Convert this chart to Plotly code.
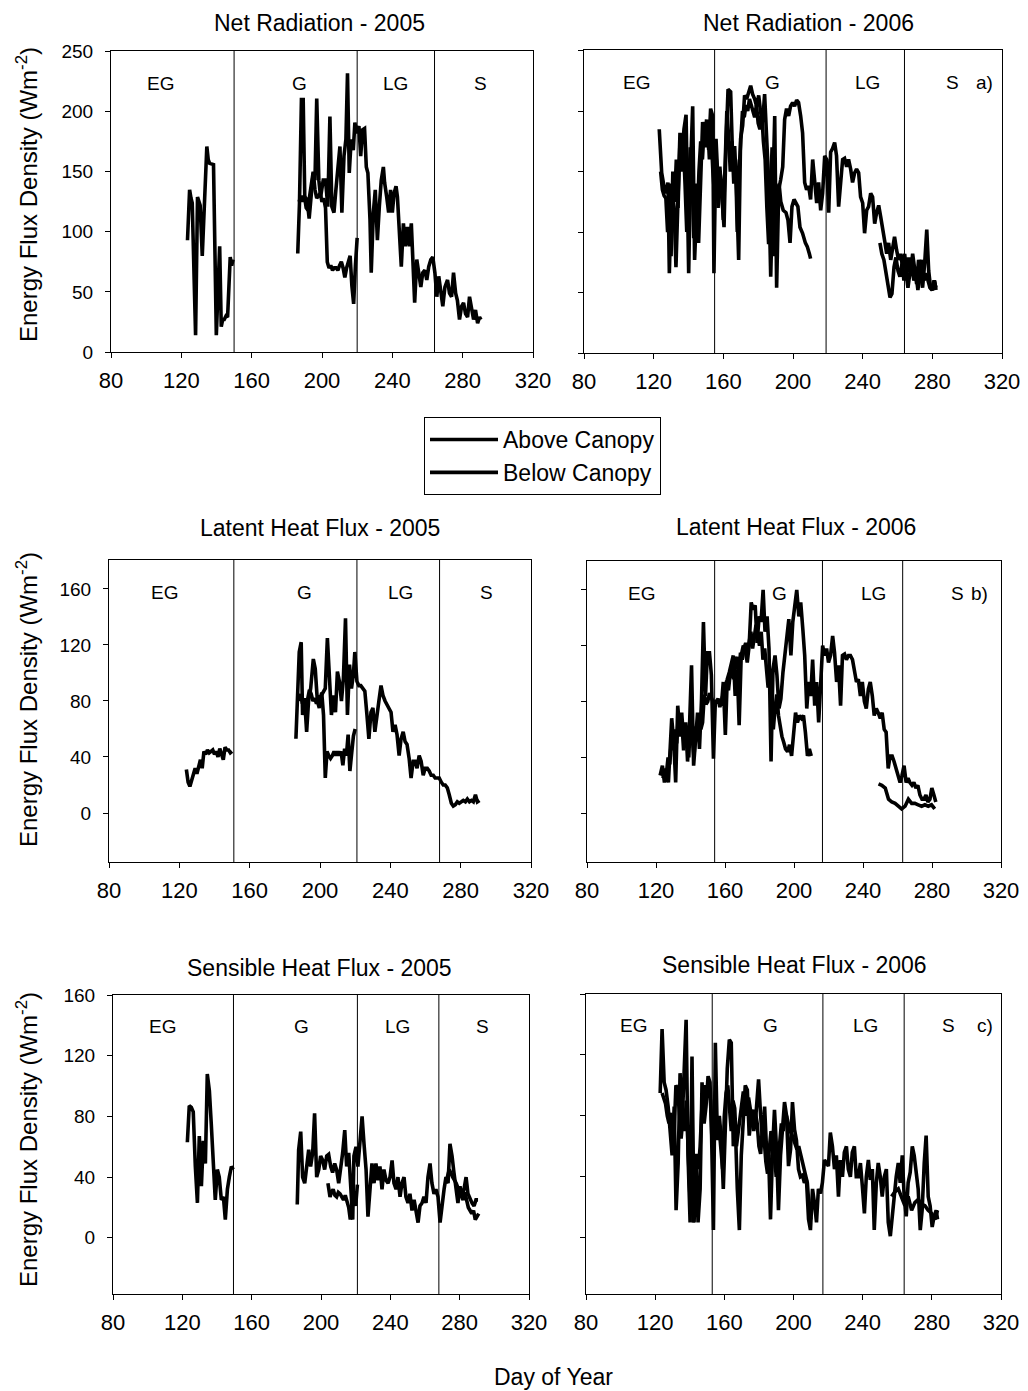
import plotly.graph_objects as go

# ---------------- DATA ----------------
# Net Radiation 2005
rn05_above_day = [123.5,124.7,125.5,126.2,127.3,128.1,129.2,130.7,131.9,132.6,133.2,134.5,135.3,136.1,138.3,139.9,141.8,142.7,143.5,144.4,145.4,146.3,147.8,148.6,149.4,None,
                  186.2,187.2,188.3,189.3,190.2,191.5,192.7,193.8,195.0,196.0,197.0,198.2,199.2,200.7,202.0,203.3,204.5,205.6,206.8,207.9,
                  209.0,210.2,211.3,212.5,213.6,214.5,215.5,216.6,217.8,218.7,219.7,221.0,222.0,223.1,224.2,225.2,226.1,227.3,228.0,229.2,
                  230.3,231.5,232.6,233.7,234.9,235.6,236.8,237.9,239.0,240.0,241.0,242.1,242.9,244.0,245.1,246.3,247.4,248.6,249.7,250.8,
                  252.0,252.7,253.9,255.0,256.2,257.3,258.5,259.6,260.7,261.9,263.0,264.2,265.3,266.4,267.6,268.7,269.9,271.4,272.5,273.7,
                  274.8,276.0,277.0,278.2,279.4,280.5,281.6,282.8,283.9,285.0,286.2,287.3,288.5,289.6,290.4]
rn05_above = [93,135,128,124,60,14,129,122,80,105,135,171,160,157,156,14,88,21,27,27,30,29,79,72,77,None,
              82,124,210,210,129,127,111,127,149,143,211,143,129,143,143,121,196,121,116,135,
              154,171,116,163,177,232,149,177,168,191,182,188,163,185,186,154,149,110,66,116,
              135,93,121,143,154,141,129,116,135,116,132,138,129,104,71,107,88,104,88,107,
              60,41,77,66,54,66,68,60,71,77,79,66,46,63,49,38,54,60,49,46,
              66,49,43,27,38,41,32,29,46,35,27,35,24,29,27]
rn05_below_day = list(range(187, 221))
rn05_below = [125,130,125,130,120,118,130,140,150,135,128,130,132,125,128,120,75,70,72,68,
              70,70,68,72,75,70,62,70,75,80,55,40,72,95]

# Net Radiation 2006
rn06_above_day = [123.2,124.6,125.9,127.1,128.2,129.0,130.3,131.7,132.8,134.0,135.1,136.3,137.4,138.6,139.3,140.1,141.2,142.4,143.5,144.7,
                  145.8,147.0,148.1,149.3,150.4,151.6,152.7,153.9,154.6,155.8,156.9,158.0,159.2,160.4,161.5,162.7,164.2,165.3,166.5,167.6,
                  168.8,169.9,171.1,172.2,173.4,174.5,175.7,176.8,178.0,179.1,180.3,181.4,182.6,183.7,184.9,186.0,187.2,188.3,189.5,190.6,
                  191.8,192.9,194.1,195.2,196.3,197.5,198.6,199.8,200.9,202.1,203.2,204.4,205.5,206.7,207.8,209.0,210.1,211.3,212.4,213.6,
                  214.7,215.9,217.0,218.2,219.3,220.5,221.6,222.7,223.9,225.0,226.2,227.3,228.5,229.6,230.8,231.9,233.1,234.2,235.4,236.5,
                  237.7,238.8,240.0,241.1,242.3,243.4,244.6,245.7,246.9,248.0,249.2,250.3,251.5,252.6,253.8,254.9,256.1,257.2,258.3,259.5,
                  260.6,261.8,262.9,264.1,265.2,266.4,267.5,268.7,269.8,271.0,272.1,273.3,274.4,275.6,276.8,277.9,279.0,280.2,281.3,282.1]
rn06_above = [185,149,138,132,141,66,138,121,71,135,182,163,185,197,121,66,154,204,77,121,
              91,141,191,177,193,168,202,196,66,177,143,154,127,104,171,218,216,163,171,135,
              77,177,188,213,210,216,221,214,210,204,213,199,191,214,182,143,63,143,196,54,
              135,143,154,193,202,196,204,207,204,209,207,196,182,141,135,138,127,160,143,124,
              141,118,132,163,160,116,166,169,174,163,121,143,160,161,154,160,152,141,149,152,
              149,129,124,99,118,121,132,129,107,116,122,113,104,93,82,91,77,88,96,85,
              77,82,71,82,66,79,66,82,71,57,77,66,54,74,102,68,54,52,60,52]
rn06_below_day = list(range(124, 194)) + [
                  194.4,196.0,197.1,198.3,199.4,200.6,201.7,202.8,204.0,205.5,207.1,208.2,209.4,210.1,None,
                  249.9,251.0,252.2,253.4,254.5,255.7,256.8,258.0,259.1,260.3,261.4,262.6,263.7,264.8,266.0,
                  267.1,268.3,269.4,270.6,271.7,272.9,274.0,275.2,276.3,277.5,278.6,279.8,281.0,282.1]
rn06_below = [150,135,130,128,100,140,80,150,125,160,120,170,150,175,140,100,130,170,150,95,
              140,110,150,175,160,185,170,190,160,180,150,130,160,120,150,140,110,150,200,180,
              150,175,140,160,100,150,175,200,195,205,200,210,205,200,195,205,190,185,200,175,
              160,120,90,130,170,80,120,130,140,125,
              118,116,110,91,121,127,124,121,104,99,91,88,82,78,None,
              91,82,77,66,54,46,49,71,79,68,63,74,60,68,54,
              66,71,60,66,52,66,77,60,66,60,54,52,60,54]

# Latent Heat Flux 2005
le05_above_day = list(range(124, 151)) + [None] + [
                  186.3,187.4,188.2,189.3,190.1,191.2,192.4,193.5,194.7,196.2,197.3,198.5,199.6,200.8,201.9,203.0,204.2,205.3,206.5,207.6,
                  208.8,209.9,211.0,212.2,213.3,214.5,215.6,216.8,217.9,219.0,219.8,221.0,222.1,223.2,224.4,225.5,226.7,227.8,229.0,230.1,
                  231.2,232.4,233.5,234.7,235.8,237.0,238.1,239.2,240.4,241.5,242.7,243.8,245.0,246.1,247.3,248.4,249.5,250.7,251.8,253.0,
                  254.1,255.2,256.4,257.5,258.7,259.8,261.0,262.1,263.2,264.4,265.5,266.7,267.8,269.0,270.1,271.2,272.4,273.5,274.7,275.8,
                  277.0,278.1,279.2,280.4,281.5,282.7,283.8,285.0,286.1,287.2,288.4,289.5,290.7]
le05_above = [31,22,19,24,27,32,28,33,38,32,44,42,45,43,44,45,42,44,40,46,42,38,47,45,45,43,44, None,
              53,84,115,122,70,82,58,80,89,110,103,80,75,84,87,89,125,101,70,84,
              72,101,94,80,96,139,70,106,89,99,115,94,91,91,89,87,70,53,72,75,
              58,72,80,91,84,80,77,75,72,58,63,56,41,53,58,51,49,39,25,37,
              37,32,41,37,27,32,32,30,27,27,25,25,25,22,20,20,18,13,7,5,
              6,8,7,8,9,8,10,8,9,8,13,8,9]
le05_below_day = list(range(188, 221))
le05_below = [80,85,78,80,75,82,88,85,80,82,78,84,80,86,70,25,44,41,39,41,
              44,41,44,41,44,34,46,41,56,30,41,55,60]

# Latent Heat Flux 2006
le06_above_day = [122.4,123.7,124.9,126.0,127.2,128.3,129.1,130.3,131.4,132.6,133.7,134.9,136.0,137.2,138.3,139.5,140.6,141.8,142.9,144.1,
                  145.2,146.4,147.5,148.7,149.8,151.0,152.1,153.3,154.4,155.6,156.7,157.9,159.0,160.2,161.3,162.5,163.6,164.8,165.9,167.1,
                  168.2,169.4,170.6,171.7,172.9,174.0,175.2,176.3,177.5,178.6,179.8,180.9,182.1,183.2,184.4,185.5,186.7,187.8,189.0,190.1,
                  191.3,192.4,193.6,194.7,195.9,197.0,198.2,199.3,200.5,201.6,202.8,203.9,205.1,206.2,207.4,208.5,209.7,210.8,212.0,213.1,
                  214.3,215.4,216.6,217.7,218.9,220.0,221.2,222.4,223.5,224.7,225.8,227.0,228.1,229.3,230.4,231.6,232.7,233.9,235.0,236.2,
                  237.3,238.5,239.6,240.8,241.9,243.1,244.2,245.4,246.5,247.7,248.8,250.0,251.1,252.3,253.4,254.6,255.7,256.9,258.0,259.2,
                  260.3,261.5,262.6,263.8,265.0,266.1,267.2,268.4,269.5,270.7,271.8,273.0,274.2,275.3,276.5,277.6,278.8,279.9,281.1,282.2]
le06_above = [27,34,22,32,22,46,68,51,22,77,60,72,53,65,37,65,106,34,51,72,
              46,82,137,84,115,115,99,39,80,80,80,77,94,56,96,101,106,113,84,103,
              63,113,120,118,108,120,151,146,149,122,141,137,160,130,141,118,37,103,113,99,
              75,82,101,113,122,139,113,137,149,160,141,151,132,113,75,94,84,110,77,94,
              65,89,120,113,118,108,113,127,115,94,106,77,113,114,110,113,113,110,103,94,
              96,84,94,80,75,89,94,84,70,75,72,68,72,60,58,32,41,41,37,32,
              27,22,27,34,22,25,22,20,22,18,20,13,10,10,13,8,10,18,13,8]
le06_below_day = list(range(124, 194)) + [
                  194.0,195.1,196.3,197.4,198.6,199.7,200.9,202.0,203.2,204.3,205.5,206.6,207.8,208.9,210.0, None,
                  249.0,250.9,252.9,254.8,256.7,258.6,260.5,262.4,264.4,266.3,268.2,270.1,272.0,274.0,275.9,277.8,279.7,281.6]
le06_below = [25,30,28,40,35,55,45,60,50,70,55,65,45,60,50,40,70,55,40,62,
              58,68,60,65,85,78,80,86,82,80,78,80,82,76,80,85,90,95,88,100,
              105,96,108,112,100,115,110,118,122,115,125,130,118,125,135,128,120,130,110,118,
              100,90,95,80,60,75,85,70,62,55,
              51,46,44,49,41,56,72,65,70,68,70,58,41,46,41, None,
              21,20,18,10,8,7,5,3,5,10,7,7,6,5,6,5,6,3]

# Sensible Heat Flux 2005
h05_above_day = [122.9,124.0,125.2,126.3,127.5,128.7,129.8,131.0,132.1,133.3,134.4,135.6,136.7,137.9,139.0,140.2,141.3,142.5,143.7,144.8,
                 146.0,147.1,148.3,149.4, None,
                 186.3,187.1,188.3,189.4,190.6,191.7,192.9,194.0,195.2,196.3,197.5,198.7,199.8,201.0,202.1,203.3,204.4,205.6,206.7,207.9,
                 209.0,210.2,211.3,212.5,213.7,214.8,216.0,217.1,218.3,219.0,220.2,221.3,222.5,223.7,224.8,226.0,227.1,228.3,229.4,230.6,
                 231.7,232.9,234.0,235.2,236.3,237.5,238.7,239.8,241.0,242.1,243.3,244.4,245.6,246.7,247.9,249.0,250.2,251.3,252.5,253.7,
                 254.8,256.0,257.1,258.3,259.4,260.6,261.7,262.9,264.0,265.2,266.3,267.5,268.7,269.8,271.0,272.1,273.3,274.4,275.6,276.7,
                 277.9,279.0,280.2,281.3,282.5,283.7,284.8,286.0,287.1,288.3,289.4,290.6]
h05_above = [63,87,86,83,47,23,67,34,64,49,108,97,75,45,25,45,40,25,27,12,
             32,40,47,45, None,
             22,58,70,40,36,49,58,47,56,82,40,45,54,51,45,54,55,47,43,49,
             45,36,45,56,71,47,56,32,12,54,60,47,67,80,62,45,14,34,49,36,
             49,38,47,32,45,38,36,40,51,36,32,40,27,36,40,27,23,29,18,25,
             16,10,21,23,27,23,40,49,36,29,32,27,10,23,32,40,36,62,54,43,
             32,23,34,27,32,40,29,25,23,21,25,25]
h05_below_day = [204.0,205.2,206.0,207.0,208.0,209.0,210.0,211.0,212.0,213.0,214.0,215.0,216.0,216.9,218.4,219.0,220.0,221.0, None,
                 272,274,276,278,280,282,283,284,285,286,287,288,289,290,291]
h05_below = [36,27,30,32,28,27,30,29,27,25,28,23,20,12,23,30,21,35, None,
             36,45,40,36,30,25,30,24,20,18,16,18,12,14,16]

# Sensible Heat Flux 2006
h06_above_day = [122.9,124.0,125.2,126.3,127.5,128.7,129.8,131.0,132.1,133.3,134.4,135.6,136.7,137.9,139.0,140.2,141.3,142.5,143.7,144.8,
                 146.0,147.1,148.3,149.4,150.6,151.7,152.5,153.7,154.8,156.0,157.1,158.3,159.4,160.6,161.7,162.9,164.0,165.2,166.3,167.5,
                 168.7,169.8,171.0,172.1,173.3,174.4,175.6,176.7,177.9,179.0,179.8,181.0,182.1,183.3,184.4,185.6,186.7,187.9,189.0,190.2,
                 191.3,192.5,193.7,194.8,196.0,197.1,198.3,199.4,200.6,201.7,202.9,204.0,205.2,206.3,207.5,208.7,209.8,211.0,212.1,213.3,
                 214.4,215.6,216.7,217.9,219.0,220.2,221.3,222.5,223.7,224.8,226.0,227.1,228.3,229.4,230.6,231.7,232.9,234.0,235.2,236.3,
                 237.5,238.7,239.8,241.0,242.1,243.3,244.4,245.6,246.7,247.9,249.0,250.2,251.3,252.5,253.7,254.8,256.0,257.1,258.3,259.4,
                 260.6,261.7,262.9,264.0,265.2,266.3,267.5,268.7,269.8,271.0,272.1,273.3,274.4,275.6,276.7,277.9,279.0,280.2,281.3,282.5,283.3]
h06_above = [95,137,102,97,86,71,54,86,18,49,108,75,111,143,54,10,119,10,54,10,
             32,102,75,86,106,102,75,5,128,64,80,64,32,69,111,130,128,60,75,32,
             5,54,75,100,97,67,80,84,75,93,104,80,64,86,58,54,12,58,84,58,
             18,54,71,89,80,47,58,89,71,64,45,40,41,36,38,12,5,32,23,10,
             32,29,36,51,49,47,69,60,45,54,27,51,40,56,60,45,40,56,60,40,
             40,49,34,16,40,51,38,45,5,36,49,40,27,40,45,10,1,14,32,40,
             49,36,54,27,14,36,43,60,54,40,32,5,18,49,67,27,21,7,14,18,12]
h06_below_day = list(range(124, 211)) + [None] + [
                 256.7,258.6,260.6,262.5,264.4,266.3,268.3,270.2,272.1,274.0,276.0,277.9,279.8,281.7,283.3]
h06_below = [95,92,88,80,75,82,60,70,100,98,80,65,78,70,90,55,30,45,10,30,
             55,45,60,85,95,100,92,98,90,60,80,76,70,72,60,45,80,95,100,85,
             70,90,85,60,70,80,90,96,88,80,92,85,78,70,82,75,60,55,72,65,
             50,42,58,70,64,55,40,48,62,75,70,78,
             80,75,70,68,64,60,58,60,55,50,46,40,36,20,12, None,
             27,30,32,26,21,27,18,23,25,22,21,18,16,12,18]

# Phase boundaries (day of year) and phase labels
phase_names = ["EG", "G", "LG", "S"]
bounds = [[150, 220, 264], [155, 219, 264], [151, 221, 268], [154, 216.5, 263], [149.5, 221, 268], [153, 217, 264]]
label_days = [[108, 187, 242, 290], [110, 188.5, 243, 291.6], [111.8, 191, 245.7, 294.9],
              [111.8, 191.5, 246, 295], [108.5, 188.9, 244.3, 293.3], [107.3, 186.6, 241.4, 289.9]]
panel_tags = [None, "a)", None, "b)", None, "c)"]
tag_days = [None, 310, None, 307.5, None, 310.6]

titles = ["Net Radiation - 2005", "Net Radiation - 2006", "Latent Heat Flux - 2005",
          "Latent Heat Flux - 2006", "Sensible Heat Flux - 2005", "Sensible Heat Flux - 2006"]
x_ticks = [80, 120, 160, 200, 240, 280, 320]
y_ticks_rn = [0, 50, 100, 150, 200, 250]
y_ticks_flux = [0, 40, 80, 120, 160]

series = [
    (rn05_above_day, rn05_above, rn05_below_day, rn05_below),
    (rn06_above_day, rn06_above, rn06_below_day, rn06_below),
    (le05_above_day, le05_above, le05_below_day, le05_below),
    (le06_above_day, le06_above, le06_below_day, le06_below),
    (h05_above_day, h05_above, h05_below_day, h05_below),
    (h06_above_day, h06_above, h06_below_day, h06_below),
]
for s in series:
    assert len(s[0]) == len(s[1]), (len(s[0]), len(s[1]))
    assert len(s[2]) == len(s[3]), (len(s[2]), len(s[3]))

# ---------------- LAYOUT (pixel geometry of the reference) ----------------
OFF = 8                      # page body margin of the html page
W, H = 1028 - OFF, 1391 - OFF
FONT = "Liberation Sans, Arial, sans-serif"


def px(x):
    return (x - OFF) / W


def py(y):
    return 1 - (y - OFF) / H


frames = [(111, 533, 51, 352), (584, 1002, 50, 353),
          (109, 531, 560, 862), (587, 1001, 561, 862),
          (113, 529, 995, 1294), (586, 1001, 994, 1294)]
y_ranges = [[0, 250.5], [0, 250.5], [-35, 180.7], [-35, 180.7], [-37, 160], [-37, 160]]
y_tickvals = [y_ticks_rn, y_ticks_rn, y_ticks_flux, y_ticks_flux, y_ticks_flux, y_ticks_flux]

fig = go.Figure()
layout = dict(template="none", width=W, height=H,
              margin=dict(l=0, r=0, t=0, b=0, pad=0, autoexpand=False),
              paper_bgcolor="white", plot_bgcolor="white",
              font=dict(family=FONT, color="black", size=20),
              showlegend=True)

shapes, annotations = [], []
for i in range(6):
    n = i + 1
    sx = "" if n == 1 else str(n)
    L, R, T, B = frames[i]
    layout["xaxis" + sx] = dict(domain=[px(L), px(R)], range=[80, 320], anchor="y" + sx, automargin=False,
                                tickvals=x_ticks, ticks="outside", ticklen=5, tickwidth=1, tickcolor="black",
                                showline=True, mirror=True, linecolor="black", linewidth=1,
                                showgrid=False, zeroline=False, ticklabelstandoff=4,
                                tickfont=dict(size=22, family=FONT, color="black"))
    layout["yaxis" + sx] = dict(domain=[py(B), py(T)], range=y_ranges[i], anchor="x" + sx, automargin=False,
                                tickvals=y_tickvals[i], ticks="outside", ticklen=5, tickwidth=1, tickcolor="black",
                                showline=True, mirror=True, linecolor="black", linewidth=1,
                                showgrid=False, zeroline=False, showticklabels=(i % 2 == 0),
                                ticklabelstandoff=8,
                                tickfont=dict(size=19, family=FONT, color="black"))
    ad, av, bd, bv = series[i]
    fig.add_trace(go.Scatter(x=ad, y=av, mode="lines", name="Above Canopy",
                             line=dict(color="black", width=3.6), showlegend=(i == 0),
                             xaxis="x" + sx, yaxis="y" + sx))
    fig.add_trace(go.Scatter(x=bd, y=bv, mode="lines", name="Below Canopy",
                             line=dict(color="black", width=3.6), showlegend=(i == 0),
                             xaxis="x" + sx, yaxis="y" + sx))
    xref = "x" + sx
    yref = ("y" + sx) + " domain"
    for b in bounds[i]:
        shapes.append(dict(type="line", xref=xref, yref=yref, x0=b, x1=b, y0=0, y1=1,
                           line=dict(color="black", width=1)))
    for name, d in zip(phase_names, label_days[i]):
        annotations.append(dict(x=d, y=0.935, xref=xref, yref=yref, text=name, showarrow=False,
                                font=dict(size=19, family=FONT, color="black")))
    if panel_tags[i]:
        annotations.append(dict(x=tag_days[i], y=0.935, xref=xref, yref=yref, text=panel_tags[i],
                                showarrow=False, font=dict(size=19, family=FONT, color="black")))

title_pos = [(319, 18), (808, 18), (320, 528), (796, 527), (319, 968), (794, 965)]
for k, (t, (tx, ty)) in enumerate(zip(titles, title_pos)):
    if ty < 40:
        annotations.append(dict(x=px(tx), y=1.0, xref="paper", yref="paper", text=t,
                                showarrow=False, xanchor="center", yanchor="top",
                                font=dict(size=23, family=FONT, color="black")))
    else:
        annotations.append(dict(x=px(tx), y=py(ty), xref="paper", yref="paper", text=t,
                                showarrow=False, xanchor="center", yanchor="middle",
                                font=dict(size=23, family=FONT, color="black")))
for ty in [195, 700, 1140]:
    annotations.append(dict(x=px(27), y=py(ty), xref="paper", yref="paper",
                            text="Energy Flux Density (Wm<sup>-2</sup>)", textangle=-90,
                            showarrow=False, xanchor="center", yanchor="middle",
                            font=dict(size=24, family=FONT, color="black")))
annotations.append(dict(x=px(553), y=py(1377), xref="paper", yref="paper", text="Day of Year",
                        showarrow=False, xanchor="center", yanchor="middle",
                        font=dict(size=23, family=FONT, color="black")))

layout["shapes"] = shapes
layout["annotations"] = annotations
layout["legend"] = dict(x=px(424), y=py(417), xanchor="left", yanchor="top",
                        bordercolor="black", borderwidth=1, bgcolor="white",
                        font=dict(size=23, family=FONT, color="black"),
                        tracegroupgap=0, itemwidth=68)
fig.update_layout(**layout)
fig.write_html("out.html")
